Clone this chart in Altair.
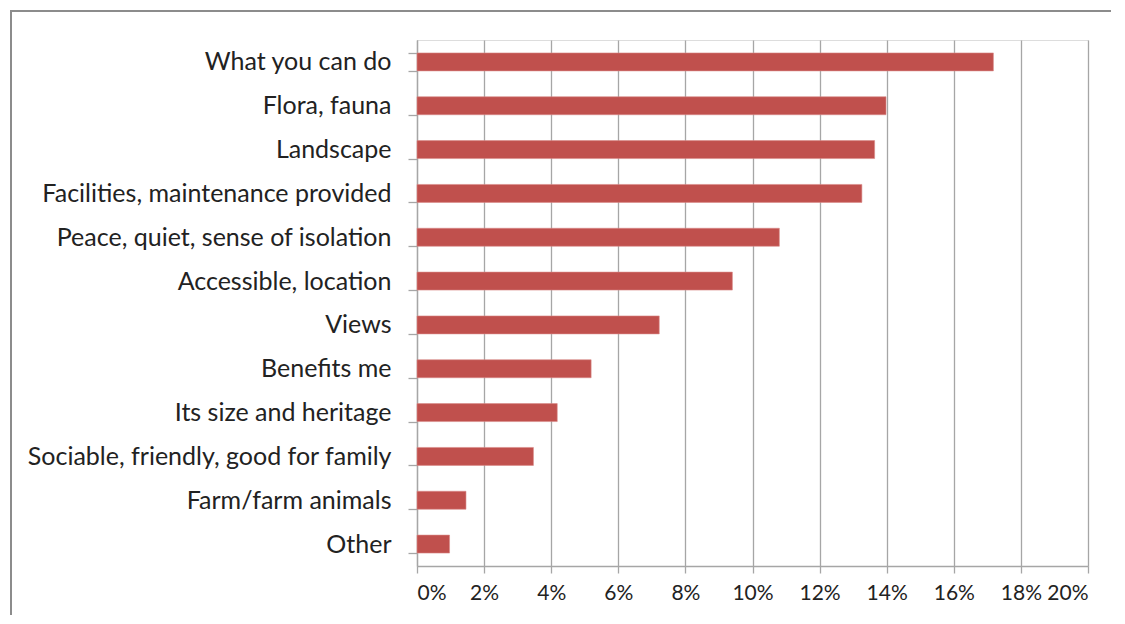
import altair as alt
import pandas as pd

categories = [
    "What you can do",
    "Flora, fauna",
    "Landscape",
    "Facilities, maintenance provided",
    "Peace, quiet, sense of isolation",
    "Accessible, location",
    "Views",
    "Benefits me",
    "Its size and heritage",
    "Sociable, friendly, good for family",
    "Farm/farm animals",
    "Other",
]
values = [0.1718, 0.1398, 0.1364, 0.1326, 0.1080, 0.0940, 0.0722, 0.0519, 0.0418, 0.0347, 0.0146, 0.0097]
x_ticks = [0, 0.02, 0.04, 0.06, 0.08, 0.10, 0.12, 0.14, 0.16, 0.18, 0.20]

df = pd.DataFrame({"category": categories, "value": values})

FONT = "Lato"
GRID = "#a6a6a6"
FRAME = "#8c8c8c"

one = pd.DataFrame({"a": [0]})
frame_top = alt.Chart(one).mark_rule(color=FRAME, strokeWidth=2, clip=False).encode(
    x=alt.value(-407), x2=alt.value(694), y=alt.value(-29)
)
frame_left = alt.Chart(one).mark_rule(color=FRAME, strokeWidth=2, clip=False).encode(
    x=alt.value(-406), y=alt.value(-30), y2=alt.value(575)
)

bars = alt.Chart(df).mark_bar(color="#C0504D", stroke="#d98a88", strokeWidth=0.6).encode(
    x=alt.X(
        "value:Q",
        scale=alt.Scale(domain=[0, 0.20], nice=False, zero=True),
        axis=alt.Axis(
            values=x_ticks, format=".0%", title=None, grid=True, gridColor=GRID,
            gridWidth=1.3, domainColor=GRID, domainWidth=1.3, tickColor=GRID,
            tickWidth=1.3, tickSize=7, labelPadding=9, labelFontSize=21,
            labelFont=FONT, labelColor="#222222", labelOverlap=False,
        ),
    ),
    y=alt.Y(
        "category:N",
        sort=categories,
        scale=alt.Scale(paddingInner=0.59, paddingOuter=0.295),
        axis=alt.Axis(
            title=None, tickBand="extent", domainColor=GRID, domainWidth=1.3,
            tickColor=GRID, tickWidth=1.3, tickSize=9, labelPadding=17,
            labelFontSize=25, labelFont=FONT, labelColor="#222222", labelLimit=500,
        ),
    ),
)

chart = alt.layer(frame_top, frame_left, bars).properties(
    width=671,
    height=526,
    autosize=alt.AutoSizeParams(type="none"),
    padding={"left": 409, "top": 32, "right": 29, "bottom": 50},
).configure_view(stroke=None).configure(background="white")

chart.save("out.html", embed_options={"renderer": "svg", "actions": False})
